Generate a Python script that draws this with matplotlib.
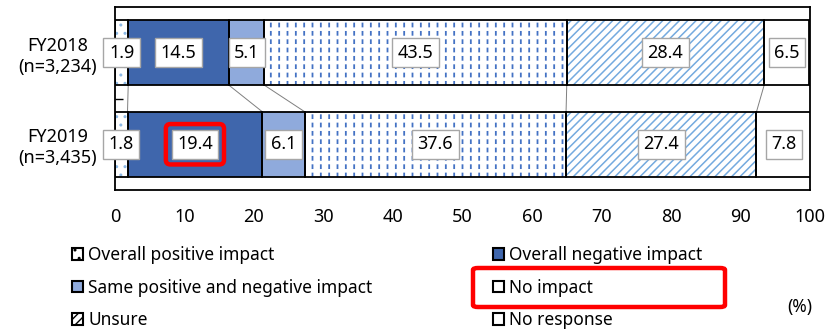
import numpy as np
import matplotlib.pyplot as plt
from matplotlib.patches import Patch, FancyBboxPatch

plt.rcParams['font.family'] = ['Noto Sans', 'DejaVu Sans']

# survey responses (%), one list per fiscal year
years = ['FY2018\n(n=3,234)', 'FY2019\n(n=3,435)']
categories = ['Overall positive impact', 'Overall negative impact',
              'Same positive and negative impact', 'No impact',
              'Unsure', 'No response']
fy2018 = [1.9, 14.5, 5.1, 43.5, 28.4, 6.5]
fy2019 = [1.8, 19.4, 6.1, 37.6, 27.4, 7.8]
highlight = (1, 1)  # (year index, category index) -> FY2019 negative impact

# face colour, hatch, hatch colour per category
styles = [
    ('white', '..', '#8DB9E6'),
    ('#3F66AC', None, None),
    ('#8FAADC', None, None),
    ('white', 'dash', '#4472C4'),
    ('white', '////', '#74AADF'),
    ('white', None, None),
]

fig = plt.figure(figsize=(8.36, 3.29), dpi=100)
ax = fig.add_axes([115 / 836, 1 - 190 / 329, 695 / 836, 183 / 329])

ypos = [1, 0]
h = 0.71
data = [fy2018, fy2019]


def hatched_bar(y, left, width, face, hatch, hcolor):
    if hatch is None:
        ax.barh(y, width, left=left, height=h, color=face, lw=0, zorder=2)
        return
    if hatch == 'dash':
        # short vertical dashes: vertical hatch broken up by white horizontal hatch
        b = ax.barh(y, width, left=left, height=h, color=face, edgecolor=hcolor,
                    hatch='||', lw=0, zorder=2)
        for p in b:
            p.set_hatch_linewidth(1.3)
        b = ax.barh(y, width, left=left, height=h, color='none', edgecolor='white',
                    hatch='--', lw=0, zorder=2.1)
        for p in b:
            p.set_hatch_linewidth(2.6)
        return
    b = ax.barh(y, width, left=left, height=h, color=face, edgecolor=hcolor,
                hatch=hatch, lw=0, zorder=2)
    for p in b:
        p.set_hatch_linewidth(1.1 if hatch.startswith('/') else 1.0)


for yi, (y, vals) in enumerate(zip(ypos, data)):
    left = 0.0
    for ci, v in enumerate(vals):
        face, hatch, hcolor = styles[ci]
        hatched_bar(y, left, v, face, hatch, hcolor)
        ax.barh(y, v, left=left, height=h, fill=False, edgecolor='black',
                lw=1.3, zorder=3)
        cx = left + v / 2
        if (yi, ci) == highlight:
            ax.text(cx, y, f'{v:.1f}', ha='center', va='center', fontsize=13,
                    color='none', zorder=5,
                    bbox=dict(boxstyle='round,pad=0.62,rounding_size=0.25',
                              fc='none', ec='#FF0000', lw=3.2))
        ax.text(cx, y, f'{v:.1f}', ha='center', va='center', fontsize=13,
                zorder=6,
                bbox=dict(boxstyle='square,pad=0.3', fc='white',
                          ec='#A6A6A6', lw=1))
        left += v

# series lines joining the segment boundaries of the two bars
c18 = np.cumsum(fy2018)[:-1]
c19 = np.cumsum(fy2019)[:-1]
for a, b in zip(c18, c19):
    ax.plot([a, b], [1 - h / 2, h / 2], color='#7F7F7F', lw=0.7, zorder=1)

ax.set_xlim(0, 100)
ax.set_ylim(-0.5, 1.5)
ax.set_xticks(range(0, 101, 10))
ax.tick_params(axis='x', length=0, pad=13, labelsize=13)
ax.set_yticks(ypos, years)
ax.set_yticks([0.5], minor=True)
ax.tick_params(axis='y', which='major', length=0, pad=13, labelsize=13)
ax.tick_params(axis='y', which='minor', direction='in', length=6, width=1)
for t in ax.get_yticklabels():
    t.set_multialignment('center')
for s in ax.spines.values():
    s.set_linewidth(1.3)

# legend, row-major in two columns
handles = []
for (face, hatch, hcolor), name in zip(styles, categories):
    if hatch == 'dash':
        hatch = '|'
    handles.append(Patch(facecolor=face if hatch is None else 'white',
                         edgecolor='black', hatch=hatch, lw=1.5, label=name))
order = [0, 2, 4, 1, 3, 5]
leg = fig.legend([handles[i] for i in order], [categories[i] for i in order],
                 ncol=2, loc='upper left', bbox_to_anchor=(72 / 836, 1 - 246 / 329),
                 frameon=False, fontsize=12.5, handlelength=0.65, handleheight=0.65,
                 handletextpad=0.3, labelspacing=0.84, columnspacing=6.9,
                 borderpad=0, borderaxespad=0)

fig.patches.append(FancyBboxPatch((473 / 836, 1 - 307 / 329), 252 / 836, 39 / 329,
                                  boxstyle='round,pad=0,rounding_size=0.006',
                                  transform=fig.transFigure, fc='none',
                                  ec='#FF0000', lw=3.2))
fig.text(800 / 836, 1 - 307 / 329, '(%)', ha='center', va='center', fontsize=12.5)

fig.savefig('out.png', dpi=100)
